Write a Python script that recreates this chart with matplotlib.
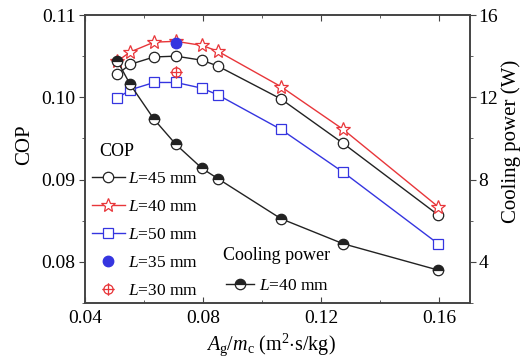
import numpy as np
import matplotlib
matplotlib.use("Agg")
import matplotlib.pyplot as plt
from matplotlib.path import Path
from matplotlib.ticker import MultipleLocator, FormatStrFormatter

plt.rcParams['font.family'] = ['Liberation Serif', 'DejaVu Serif']
plt.rcParams['mathtext.fontset'] = 'custom'
plt.rcParams['mathtext.rm'] = 'Liberation Serif'
plt.rcParams['mathtext.it'] = 'Liberation Serif:italic'

# data
x = [0.051, 0.0553, 0.0634, 0.0708, 0.0797, 0.085, 0.1064, 0.1275, 0.1597]
cop_45 = [0.1028, 0.1040, 0.1049, 0.1050, 0.1045, 0.1038, 0.0998, 0.0944, 0.0857]
cop_40 = [0.1044, 0.1055, 0.1067, 0.1068, 0.1063, 0.1056, 0.1013, 0.0961, 0.0867]
cop_50 = [0.0999, 0.1009, 0.1018, 0.1018, 0.1011, 0.1003, 0.0961, 0.0909, 0.0822]
x_35 = [0.0708]
cop_35 = [0.1066]
x_30 = [0.0708]
cop_30 = [0.1031]
power_40 = [13.76, 12.63, 10.93, 9.71, 8.54, 8.05, 6.10, 4.88, 3.60]

red = '#e8363a'
blue = '#3535e0'
dark = '#222222'
spine = '#444444'

W, H = 522, 363

# circle with cross marker
circ = Path.unit_circle()
cross = Path([[-1.35, 0], [1.35, 0], [0, -1.35], [0, 1.35]],
             [Path.MOVETO, Path.LINETO, Path.MOVETO, Path.LINETO])
crossmark = Path.make_compound_path(circ, cross)

fig = plt.figure(figsize=(5.22, 3.63), dpi=100)
ax = fig.add_axes([85 / W, 1 - 303 / H, 385 / W, 288 / H])
ax2 = ax.twinx()

l45, = ax.plot(x, cop_45, '-o', color=dark, lw=1, ms=7.5, mfc='white', mec=dark, mew=0.9)
l40, = ax.plot(x, cop_40, '-*', color=red, lw=1, ms=10, mfc='white', mec=red, mew=0.9)
l50, = ax.plot(x, cop_50, '-s', color=blue, lw=1, ms=7, mfc='white', mec=blue, mew=0.9)
l35, = ax.plot(x_35, cop_35, 'o', color=blue, ms=7.5, ls='none')
l30, = ax.plot(x_30, cop_30, ls='none', marker=crossmark, ms=9, mfc='none', mec=red, mew=0.9)

lp, = ax2.plot(x, power_40, '-o', color=dark, lw=1, ms=7.5, mfc=dark, mfcalt='white',
               fillstyle='top', mec=dark, mew=0.9)

ax.set_xlim(0.04, 0.1705)
ax.set_ylim(0.075, 0.11)
ax2.set_ylim(2, 16)

ax.xaxis.set_major_locator(MultipleLocator(0.04))
ax.xaxis.set_minor_locator(MultipleLocator(0.02))
ax.xaxis.set_major_formatter(FormatStrFormatter('%.2f'))
ax.yaxis.set_major_locator(MultipleLocator(0.01))
ax.yaxis.set_minor_locator(MultipleLocator(0.005))
ax.yaxis.set_major_formatter(FormatStrFormatter('%.2f'))
ax2.yaxis.set_minor_locator(MultipleLocator(2))
ax2.set_yticks([4, 8, 12, 16])

ax.tick_params(axis='x', which='both', direction='in', top=True, labelsize=14, color=spine, pad=5)
ax.tick_params(axis='x', which='major', length=4)
ax.tick_params(axis='x', which='minor', length=2.5)
ax.tick_params(axis='y', which='both', direction='out', labelsize=14, color=spine, pad=3)
ax.tick_params(axis='y', which='major', length=4)
ax.tick_params(axis='y', which='minor', length=2.5)
ax2.tick_params(axis='y', which='both', direction='out', labelsize=14, color=spine, pad=2)
ax2.tick_params(axis='y', which='major', length=4)
ax2.tick_params(axis='y', which='minor', length=2.5)

for a in (ax, ax2):
    for s in a.spines.values():
        s.set_color(spine)
        s.set_linewidth(1.2)

fig.text(271 / W, 1 - 345 / H,
         r'$\mathit{A}_{\mathrm{g}}/\mathit{m}_{\mathrm{c}}$ (m$^{2}$$\cdot$s/kg)',
         fontsize=14.5, ha='center', va='center')
fig.text(25 / W, 1 - 145 / H, 'COP', fontsize=15, rotation=90, ha='center', va='center')
fig.text(511 / W, 1 - 141 / H, 'Cooling power (W)', fontsize=15, rotation=90,
         ha='center', va='center')

lab = lambda n: r'$\mathit{L}$=' + n + ' mm'
fig.text(99 / W, 1 - 151 / H, 'COP', fontsize=13, ha='left', va='center')
leg1 = ax2.legend([l45, l40, l50, l35, l30],
                  [lab('45'), lab('40'), lab('50'), lab('35'), lab('30')],
                  loc='upper left', bbox_to_anchor=(92 / W, 1 - 171 / H),
                  bbox_transform=fig.transFigure,
                  frameon=False, fontsize=12.5, handlelength=1.9,
                  handletextpad=0.15, labelspacing=0.68, borderaxespad=0, borderpad=0)
ax2.add_artist(leg1)
fig.text(223 / W, 1 - 255 / H, 'Cooling power', fontsize=13, ha='left', va='center')
leg2 = ax2.legend([lp], [lab('40')], loc='upper left',
                  bbox_to_anchor=(226 / W, 1 - 278 / H), bbox_transform=fig.transFigure,
                  frameon=False, fontsize=12.5, handlelength=1.6, handletextpad=0.3,
                  borderaxespad=0, borderpad=0)

fig.savefig('out.png', dpi=100)
